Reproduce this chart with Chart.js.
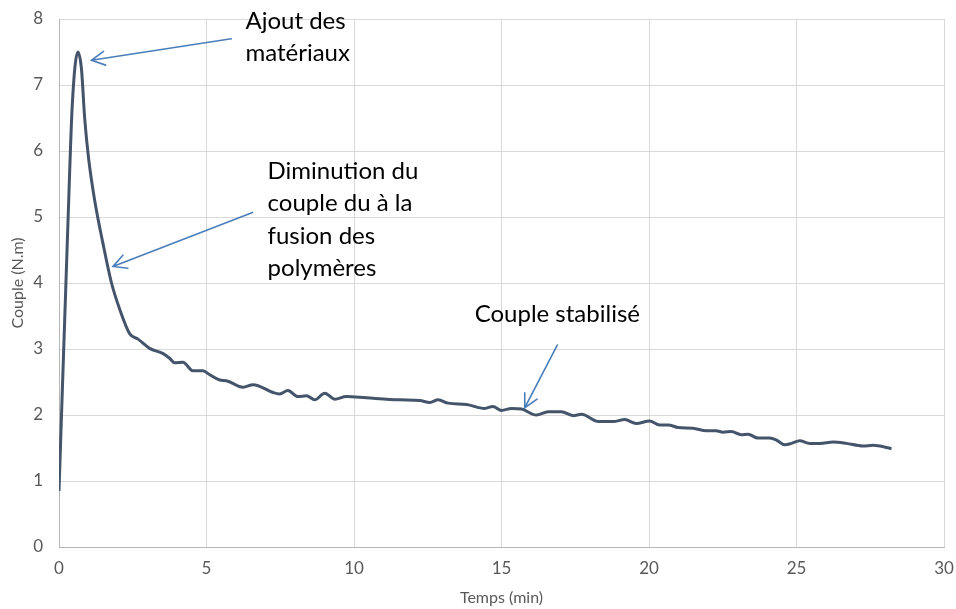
<!DOCTYPE html>
<html lang="fr">
<head>
  <meta charset="UTF-8" />
  <title>Couple en fonction du temps</title>
  <script src="https://cdn.jsdelivr.net/npm/chart.js"></script>
  <style>
    body {
      margin: 0;
      background: #fff;
    }
    #wrap {
      width: 956px;
      height: 609px;
    }
  </style>
</head>
<body>
  <div id="wrap">
    <canvas id="coupleChart" width="956" height="609"></canvas>
  </div>

  <script>
    // mesures du couple pendant le malaxage
    const temps = [0, 0.31, 0.45, 0.64, 0.76, 0.87, 1.0, 1.21, 1.49, 1.78,
      2.06, 2.4, 2.68, 3.07, 3.53, 3.75, 3.92, 4.2, 4.54, 4.88,
      5.11, 5.45, 5.67, 6.24, 6.58, 7.26, 7.48, 7.76, 8.1, 8.39,
      8.67, 9.01, 9.35, 9.74, 10.42, 11.55, 12.23, 12.57, 12.85, 13.19,
      13.81, 14.43, 14.71, 15.0, 15.34, 15.68, 16.18, 16.58, 17.03, 17.43,
      17.71, 18.3, 18.78, 19.18, 19.57, 20.02, 20.36, 20.65, 20.99, 21.49,
      21.95, 22.28, 22.51, 22.79, 23.13, 23.36, 23.69, 24.09, 24.32, 24.6,
      24.83, 25.11, 25.45, 25.79, 26.24, 26.69, 27.25, 27.59, 28.22];
    const couple = [0.85, 5.0, 6.7, 7.5, 7.25, 6.5, 5.9, 5.25, 4.6, 4.0,
      3.6, 3.23, 3.15, 3.01, 2.93, 2.86, 2.79, 2.8, 2.67, 2.67,
      2.61, 2.53, 2.52, 2.42, 2.46, 2.34, 2.32, 2.37, 2.28, 2.29,
      2.23, 2.33, 2.24, 2.28, 2.26, 2.23, 2.22, 2.19, 2.23, 2.18,
      2.16, 2.1, 2.13, 2.07, 2.1, 2.09, 2.0, 2.05, 2.05, 1.99,
      2.01, 1.9, 1.9, 1.93, 1.87, 1.91, 1.85, 1.85, 1.81, 1.8,
      1.76, 1.76, 1.74, 1.75, 1.7, 1.71, 1.65, 1.65, 1.62, 1.55,
      1.57, 1.61, 1.57, 1.57, 1.59, 1.57, 1.53, 1.54, 1.49];

    // annotations : texte (coin bas-gauche de la 1re ligne) et flèches, en unités du graphe
    const notes = [
      { at: [6.32, 7.855], lines: ["Ajout des", "matériaux"] },
      { at: [7.07, 5.58], lines: ["Diminution du", "couple du à la", "fusion des", "polymères"] },
      { at: [14.09, 3.41], lines: ["Couple stabilisé"] }
    ];
    const fleches = [
      { from: [5.84, 7.70], to: [1.10, 7.375] },
      { from: [6.56, 5.07], to: [1.83, 4.25] },
      { from: [16.89, 3.06], to: [15.79, 2.11] }
    ];

    const gris = "#595959";

    const notesPlugin = {
      id: "notes",
      afterDatasetsDraw(chart) {
        const { ctx, scales: { x, y } } = chart;
        ctx.save();
        ctx.strokeStyle = "#4a7ebb";
        ctx.lineWidth = 1.6;
        ctx.lineCap = "round";
        fleches.forEach(f => {
          const x0 = x.getPixelForValue(f.from[0]), y0 = y.getPixelForValue(f.from[1]);
          const x1 = x.getPixelForValue(f.to[0]), y1 = y.getPixelForValue(f.to[1]);
          const a = Math.atan2(y1 - y0, x1 - x0);
          const len = 15, ouv = Math.PI / 6.5;
          ctx.beginPath();
          ctx.moveTo(x0, y0);
          ctx.lineTo(x1, y1);
          ctx.moveTo(x1 - len * Math.cos(a - ouv), y1 - len * Math.sin(a - ouv));
          ctx.lineTo(x1, y1);
          ctx.lineTo(x1 - len * Math.cos(a + ouv), y1 - len * Math.sin(a + ouv));
          ctx.stroke();
        });
        ctx.fillStyle = "#000";
        ctx.font = "24px Lato";
        ctx.textBaseline = "alphabetic";
        notes.forEach(n => {
          const px = x.getPixelForValue(n.at[0]), py = y.getPixelForValue(n.at[1]);
          n.lines.forEach((l, i) => ctx.fillText(l, px, py + i * 32.5));
        });
        ctx.restore();
      }
    };

    const ctx = document.getElementById("coupleChart").getContext("2d");
    new Chart(ctx, {
      type: "line",
      data: {
        datasets: [{
          data: temps.map((t, i) => ({ x: t, y: couple[i] })),
          borderColor: "#44546a",
          borderWidth: 3,
          pointRadius: 0,
          fill: false,
          cubicInterpolationMode: "monotone"
        }]
      },
      options: {
        responsive: false,
        animation: false,
        layout: { padding: { top: 19, right: 12, left: 0, bottom: 0 } },
        plugins: {
          legend: { display: false },
          tooltip: { enabled: false }
        },
        scales: {
          x: {
            type: "linear",
            min: 0,
            max: 30,
            afterFit: s => {
              s.height = 62;
              s.paddingLeft = 0;
              s.paddingRight = 0;
            },
            ticks: { stepSize: 5, padding: 11, color: gris, font: { family: "Lato", size: 17 } },
            grid: { color: "#d9d9d9", drawTicks: false },
            border: { color: "#b5b5b5" },
            title: {
              display: true,
              text: "Temps (min)",
              color: gris,
              font: { family: "Lato", size: 16 },
              padding: { top: 0, bottom: 1.5 }
            }
          },
          y: {
            min: 0,
            max: 8,
            afterFit: s => {
              s.width = 59;
              s.paddingTop = 0;
              s.paddingBottom = 0;
            },
            ticks: { stepSize: 1, padding: 16, color: gris, font: { family: "Lato", size: 17 } },
            grid: { color: "#d9d9d9", drawTicks: false },
            border: { color: "#b5b5b5" },
            title: {
              display: true,
              text: "Couple (N.m)",
              color: gris,
              font: { family: "Lato", size: 16 },
              padding: { top: 8, bottom: 0 }
            }
          }
        }
      },
      plugins: [notesPlugin]
    });
  </script>
</body>
</html>
